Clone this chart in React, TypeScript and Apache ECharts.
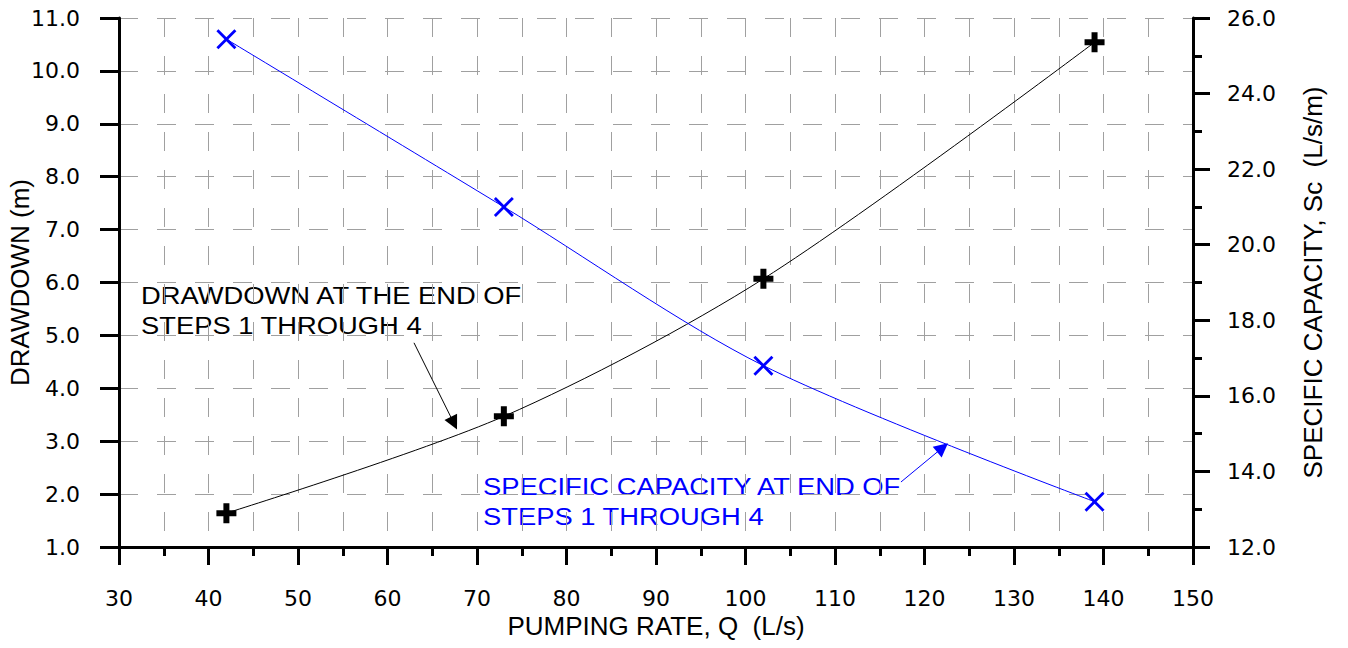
import React, { useEffect, useRef } from "react";
import * as echarts from "echarts";

const pumpingRate = [42, 73, 102, 139];
const drawdown = [1.64, 3.47, 6.07, 10.54];
const specificCapacity = [25.44, 21.0, 16.8, 13.2];

const drawdownArrow = [
  [62.96, 4.86],
  [67.42, 3.34],
];
const capacityArrow = [
  [117.37, 13.72],
  [122.02, 14.63],
];

const drawdownNote = ["DRAWDOWN AT THE END OF", "STEPS 1 THROUGH 4"];
const capacityNote = ["SPECIFIC CAPACITY AT END OF", "STEPS 1 THROUGH 4"];

const FONT = "'Liberation Sans', Arial, sans-serif";
const WIDE = "'DejaVu Sans', sans-serif";
const PLUS = "path://M7,0H13V7H20V13H13V20H7V13H0V7H7Z";
const CROSS =
  "path://M0,2L2,0L10,8L18,0L20,2L12,10L20,18L18,20L10,12L2,20L0,18L8,10Z";

export default function App() {
  const ref = useRef<HTMLDivElement>(null);
  useEffect(() => {
    if (!ref.current) return;
    const chart = echarts.init(ref.current, undefined, { renderer: "svg" });
    const gridLine = { show: true, lineStyle: { color: "#a0a0a0", width: 1, type: [19, 19] as any } };
    const axisLineStyle = { show: true, lineStyle: { color: "#000", width: 3 } };
    const labelStyle = { color: "#000", fontSize: 22, fontFamily: WIDE };
    const nameStyle = { color: "#000", fontSize: 26, fontFamily: FONT };
    chart.setOption({
      animation: false,
      backgroundColor: "#fff",
      grid: {
        left: 119,
        right: 155,
        top: 18,
        bottom: 101,
        containLabel: false,
        outerBoundsMode: "none",
      } as any,
      xAxis: {
        type: "value",
        min: 30,
        max: 150,
        interval: 10,
        name: "PUMPING RATE, Q  (L/s)",
        nameLocation: "middle",
        nameGap: 66,
        nameMoveOverlap: false,
        nameTextStyle: { ...nameStyle, verticalAlign: "top" },
        axisLine: axisLineStyle,
        axisTick: { show: true, inside: false, length: 18, lineStyle: { color: "#000", width: 3 } },
        minorTick: { show: true, splitNumber: 2, length: 9, lineStyle: { color: "#000", width: 3 } },
        axisLabel: { ...labelStyle, margin: 40 },
        splitLine: gridLine,
        minorSplitLine: gridLine,
      },
      yAxis: [
        {
          type: "value",
          min: 1,
          max: 11,
          interval: 1,
          position: "left",
          name: "DRAWDOWN (m)",
          nameLocation: "middle",
          nameGap: 86,
          nameMoveOverlap: false,
          nameRotate: 90,
          nameTextStyle: nameStyle,
          axisLine: axisLineStyle,
          axisTick: { show: true, inside: false, length: 19, lineStyle: { color: "#000", width: 3 } },
          axisLabel: { ...labelStyle, margin: 39, formatter: (v: number) => v.toFixed(1) },
          splitLine: gridLine,
        },
        {
          type: "value",
          min: 12,
          max: 26,
          interval: 2,
          position: "right",
          name: "SPECIFIC CAPACITY, Sc  (L/s/m)",
          nameLocation: "middle",
          nameGap: 107,
          nameMoveOverlap: false,
          nameRotate: 90,
          nameTextStyle: nameStyle,
          axisLine: axisLineStyle,
          axisTick: { show: true, inside: false, length: 17, lineStyle: { color: "#000", width: 3 } },
          minorTick: { show: true, splitNumber: 2, length: 9, lineStyle: { color: "#000", width: 3 } },
          axisLabel: { ...labelStyle, margin: 34, formatter: (v: number) => v.toFixed(1) },
          splitLine: { show: false },
        },
      ],
      series: [
        {
          name: "Drawdown",
          type: "line",
          yAxisIndex: 0,
          data: pumpingRate.map((q, i) => [q, drawdown[i]]),
          smooth: 0.3,
          lineStyle: { color: "#000", width: 1 },
          symbol: PLUS,
          symbolSize: 20,
          itemStyle: { color: "#000" },
          z: 3,
          markLine: {
            silent: true,
            symbol: ["none", "triangle"],
            symbolSize: 14,
            label: { show: false },
            lineStyle: { color: "#000", width: 1, type: "solid" },
            data: [[{ coord: drawdownArrow[0] }, { coord: drawdownArrow[1] }]],
          },
        },
        {
          name: "Specific capacity",
          type: "line",
          yAxisIndex: 1,
          data: pumpingRate.map((q, i) => [q, specificCapacity[i]]),
          smooth: 0.3,
          lineStyle: { color: "#0000ff", width: 1 },
          symbol: CROSS,
          symbolSize: 20,
          itemStyle: { color: "#0000ff" },
          z: 3,
          markLine: {
            silent: true,
            symbol: ["none", "triangle"],
            symbolSize: 14,
            label: { show: false },
            lineStyle: { color: "#0000ff", width: 1, type: "solid" },
            data: [[{ coord: capacityArrow[0] }, { coord: capacityArrow[1] }]],
          },
        },
      ],
      graphic: [
        ...drawdownNote.map((t, i) => ({
          type: "text",
          x: 141,
          y: 296 + i * 30,
          scaleX: 1.14,
          style: { text: t, fill: "#000", font: `24px ${FONT}`, verticalAlign: "middle" },
        })),
        ...capacityNote.map((t, i) => ({
          type: "text",
          x: 483,
          y: 487 + i * 30,
          scaleX: 1.14,
          style: { text: t, fill: "#0000ff", font: `24px ${FONT}`, verticalAlign: "middle" },
        })),
      ],
    });
    return () => chart.dispose();
  }, []);
  return (
    <div
      ref={ref}
      style={{ position: "absolute", left: 0, top: 0, width: 1348, height: 648 }}
    />
  );
}
